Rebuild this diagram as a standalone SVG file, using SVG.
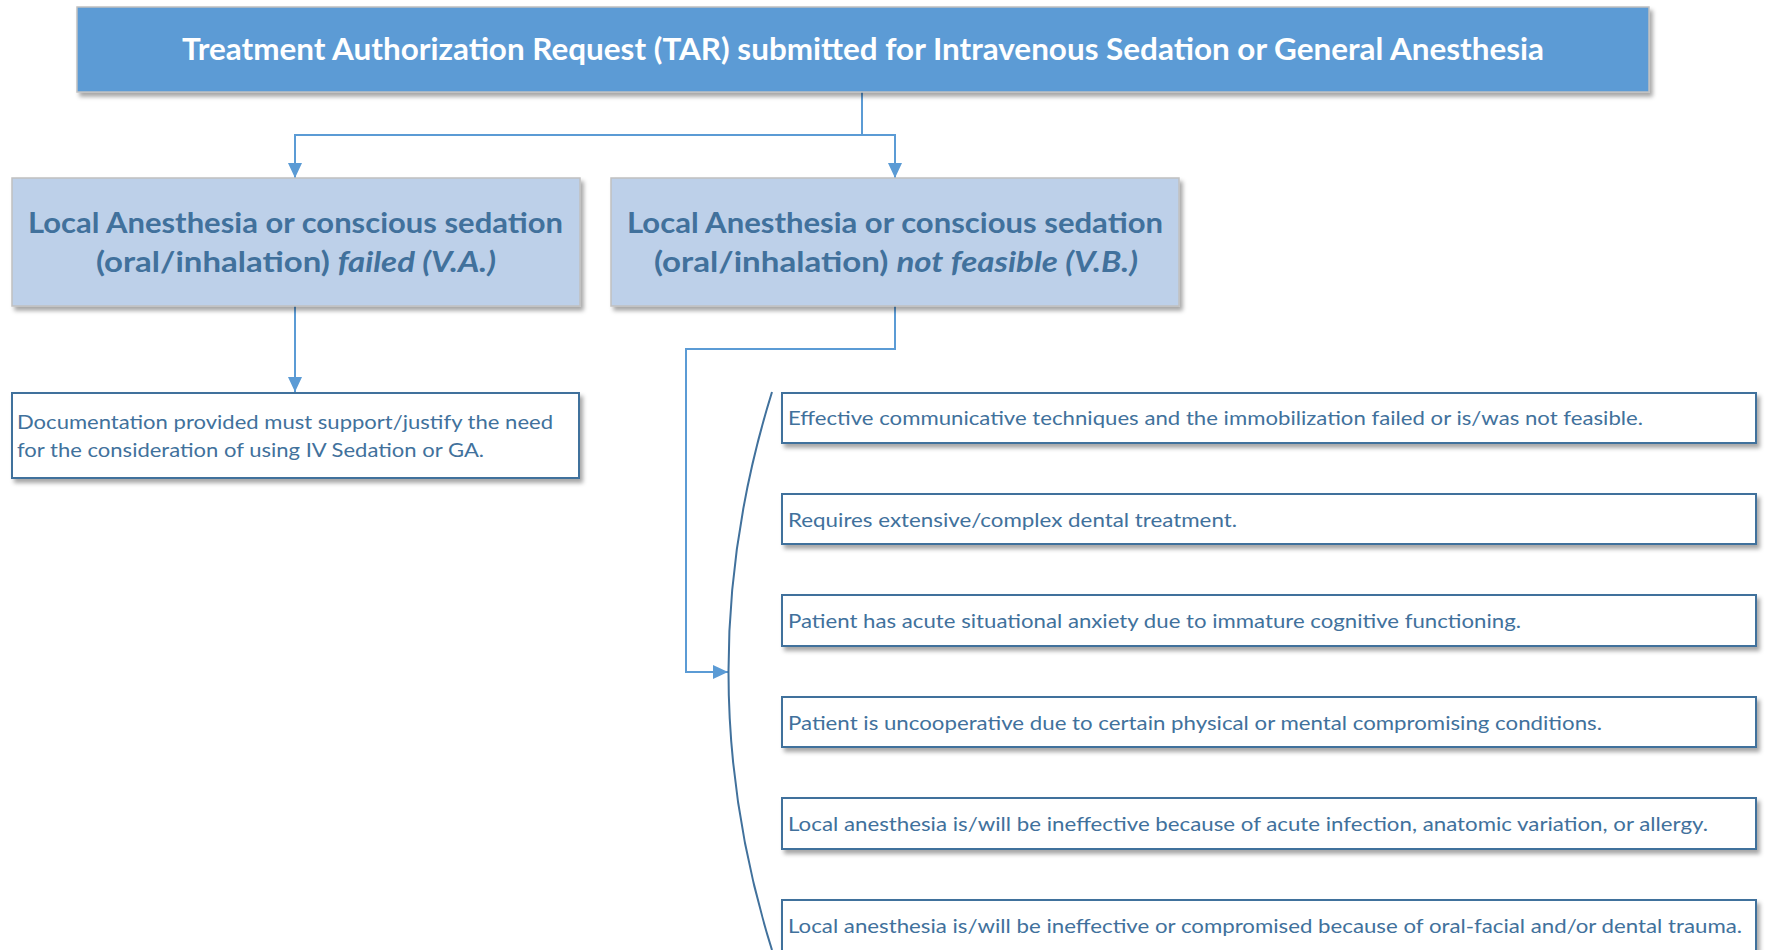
<svg xmlns="http://www.w3.org/2000/svg" width="1765" height="950" viewBox="0 0 1765 950">
<defs>
<style>
.t{font-family:Lato,"Open Sans","Liberation Sans",sans-serif}
.title{font-size:30px;font-weight:bold;fill:#ffffff}
.mid{font-size:28px;font-weight:bold;fill:#41719C}
.it{font-style:italic}
.body{font-size:19px;fill:#41719C}
.conn{fill:none;stroke:#5B9BD5;stroke-width:2}
.box{fill:#ffffff;stroke:#41719C;stroke-width:2}
</style>
<filter id="sh" x="-5%" y="-20%" width="110%" height="150%">
<feDropShadow dx="3" dy="4" stdDeviation="2" flood-color="#000" flood-opacity="0.35"/>
</filter>
<marker id="ah" markerWidth="15" markerHeight="14" refX="10" refY="5" orient="auto" markerUnits="userSpaceOnUse" viewBox="0 0 10 10" preserveAspectRatio="none">
<path d="M0,0 L10,5 L0,10 Z" fill="#5B9BD5"/>
</marker>
</defs>
<rect width="1765" height="950" fill="#ffffff"/>
<g id="connectors">
<path class="conn" d="M862,92 V135 H295 V178" marker-end="url(#ah)"/>
<path class="conn" d="M862,135 H895 V178" marker-end="url(#ah)"/>
<path class="conn" d="M295,306 V392" marker-end="url(#ah)"/>
<path class="conn" d="M895,306 V349 H686 V672 H728" marker-end="url(#ah)"/>
<path d="M772,392 Q685,672 772,950" fill="none" stroke="#41719C" stroke-width="2"/>
</g>
<g id="tar">
<rect x="77" y="7" width="1572" height="85" fill="#5B9BD5" stroke="#C0C0C0" stroke-width="1.5" filter="url(#sh)"/>
<text class="t title" x="863" y="60" text-anchor="middle" textLength="1362" lengthAdjust="spacingAndGlyphs">Treatment Authorization Request (TAR) submitted for Intravenous Sedation or General Anesthesia</text>
</g>
<g id="failed">
<rect x="12" y="178" width="568" height="128" fill="#BDD0E9" stroke="#C0C0C0" stroke-width="1.5" filter="url(#sh)"/>
<text class="t mid" x="295.5" y="233" text-anchor="middle" textLength="535" lengthAdjust="spacingAndGlyphs">Local Anesthesia or conscious sedation</text>
<text class="t mid" x="296" y="272" text-anchor="middle" textLength="400" lengthAdjust="spacingAndGlyphs">(oral/inhalation) <tspan class="it">failed (V.A.)</tspan></text>
</g>
<g id="notfeasible">
<rect x="611" y="178" width="568" height="128" fill="#BDD0E9" stroke="#C0C0C0" stroke-width="1.5" filter="url(#sh)"/>
<text class="t mid" x="895" y="233" text-anchor="middle" textLength="536" lengthAdjust="spacingAndGlyphs">Local Anesthesia or conscious sedation</text>
<text class="t mid" x="896" y="272" text-anchor="middle" textLength="484" lengthAdjust="spacingAndGlyphs">(oral/inhalation) <tspan class="it">not feasible (V.B.)</tspan></text>
</g>
<g id="documentation">
<rect class="box" x="12" y="393" width="567" height="85" filter="url(#sh)"/>
<text class="t body" x="17" y="429" textLength="536" lengthAdjust="spacingAndGlyphs">Documentation provided must support/justify the need</text>
<text class="t body" x="17" y="457" textLength="467" lengthAdjust="spacingAndGlyphs">for the consideration of using IV Sedation or GA.</text>
</g>
<g id="r1">
<rect class="box" x="782" y="393" width="974" height="50" filter="url(#sh)"/>
<text class="t body" x="788" y="425" textLength="855" lengthAdjust="spacingAndGlyphs">Effective communicative techniques and the immobilization failed or is/was not feasible.</text>
</g>
<g id="r2">
<rect class="box" x="782" y="494" width="974" height="50" filter="url(#sh)"/>
<text class="t body" x="788" y="527" textLength="449" lengthAdjust="spacingAndGlyphs">Requires extensive/complex dental treatment.</text>
</g>
<g id="r3">
<rect class="box" x="782" y="595" width="974" height="51" filter="url(#sh)"/>
<text class="t body" x="788" y="628" textLength="733" lengthAdjust="spacingAndGlyphs">Patient has acute situational anxiety due to immature cognitive functioning.</text>
</g>
<g id="r4">
<rect class="box" x="782" y="697" width="974" height="50" filter="url(#sh)"/>
<text class="t body" x="788" y="730" textLength="814" lengthAdjust="spacingAndGlyphs">Patient is uncooperative due to certain physical or mental compromising conditions.</text>
</g>
<g id="r5">
<rect class="box" x="782" y="798" width="974" height="51" filter="url(#sh)"/>
<text class="t body" x="788" y="831" textLength="920" lengthAdjust="spacingAndGlyphs">Local anesthesia is/will be ineffective because of acute infection, anatomic variation, or allergy.</text>
</g>
<g id="r6">
<rect class="box" x="782" y="900" width="974" height="52" filter="url(#sh)"/>
<text class="t body" x="788" y="933" textLength="954" lengthAdjust="spacingAndGlyphs">Local anesthesia is/will be ineffective or compromised because of oral-facial and/or dental trauma.</text>
</g>
</svg>
